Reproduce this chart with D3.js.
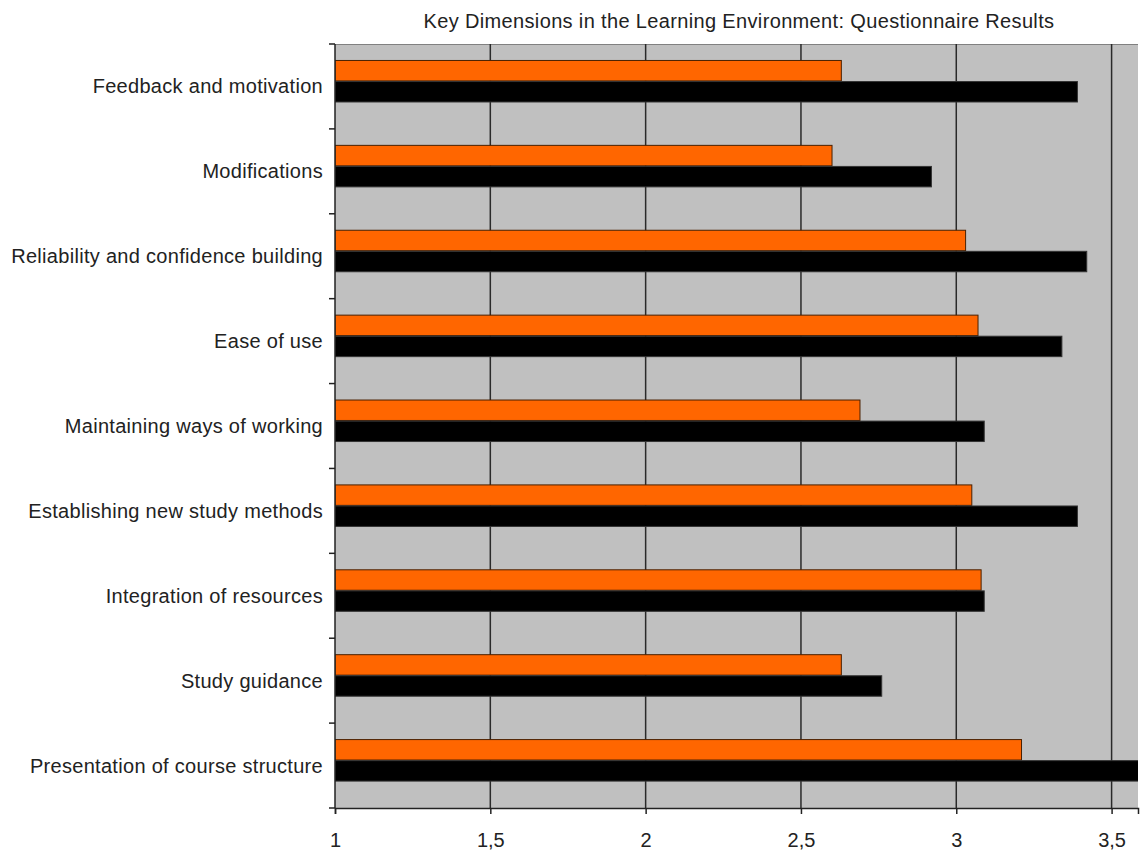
<!DOCTYPE html>
<html>
<head>
<meta charset="utf-8">
<script src="https://cdn.jsdelivr.net/npm/d3@7"></script>
<style>
  body { margin: 0; background: #fff; }
  text { font-family: "Liberation Sans", Arial, sans-serif; fill: #222; }
</style>
</head>
<body>
<script>
// chart data
var categories = ["Feedback and motivation", "Modifications", "Reliability and confidence building",
  "Ease of use", "Maintaining ways of working", "Establishing new study methods",
  "Integration of resources", "Study guidance", "Presentation of course structure"];
var seriesNames = ["orange", "black"];
var orangeValues = [2.63, 2.60, 3.03, 3.07, 2.69, 3.05, 3.08, 2.63, 3.21];
var blackValues = [3.39, 2.92, 3.42, 3.34, 3.09, 3.39, 3.09, 2.76, 3.65];
var tickValues = [1, 1.5, 2, 2.5, 3, 3.5];
var titleText = "Key Dimensions in the Learning Environment: Questionnaire Results";

var width = 1141, height = 850;
var margin = { top: 44, right: 3, bottom: 42, left: 335 };
var innerW = width - margin.left - margin.right,
    innerH = height - margin.top - margin.bottom;

var svg = d3.select("body").append("svg")
    .attr("width", width)
    .attr("height", height);

svg.append("defs").append("clipPath")
    .attr("id", "plotClip")
    .append("rect")
    .attr("width", innerW)
    .attr("height", innerH);

var g = svg.append("g")
    .attr("transform", "translate(" + margin.left + "," + margin.top + ")");

var x = d3.scaleLinear()
    .domain([1, 3.585])
    .range([0, innerW]);

var y = d3.scaleBand()
    .domain(categories)
    .range([0, innerH])
    .padding(0);

var bw = y.bandwidth();
var ySub = d3.scaleBand()
    .domain(seriesNames)
    .range([bw * 0.194, bw * 0.683])
    .paddingInner(0.03);

// plot background
g.append("rect")
    .attr("width", innerW)
    .attr("height", innerH)
    .attr("fill", "#c0c0c0");

// top border line
g.append("line")
    .attr("x1", 0).attr("x2", innerW)
    .attr("y1", 0.5).attr("y2", 0.5)
    .attr("stroke", "#808080");

// vertical gridlines
g.selectAll(".grid")
    .data(tickValues.slice(1))
    .enter()
    .append("line")
    .attr("class", "grid")
    .attr("x1", function(d) { return x(d); })
    .attr("x2", function(d) { return x(d); })
    .attr("y1", 0)
    .attr("y2", innerH)
    .attr("stroke", "#2a2a2a")
    .attr("stroke-width", 1.5);

var plot = g.append("g").attr("clip-path", "url(#plotClip)");

var rows = categories.map(function(c, i) {
  return { cat: c, orange: orangeValues[i], black: blackValues[i] };
});

// orange bars
plot.selectAll(".barOrange")
    .data(rows)
    .enter()
    .append("rect")
    .attr("class", "barOrange")
    .attr("x", x(1))
    .attr("y", function(d) { return y(d.cat) + ySub("orange"); })
    .attr("width", function(d) { return x(d.orange) - x(1); })
    .attr("height", ySub.bandwidth())
    .attr("fill", "#ff6600")
    .attr("stroke", "#4a2000")
    .attr("stroke-width", 1);

// black bars
plot.selectAll(".barBlack")
    .data(rows)
    .enter()
    .append("rect")
    .attr("class", "barBlack")
    .attr("x", x(1))
    .attr("y", function(d) { return y(d.cat) + ySub("black"); })
    .attr("width", function(d) { return x(d.black) - x(1); })
    .attr("height", ySub.bandwidth())
    .attr("fill", "#000")
    .attr("stroke", "#333")
    .attr("stroke-width", 1);

// x axis
var xAxis = g.append("g")
    .attr("transform", "translate(0," + innerH + ")")
    .call(d3.axisBottom(x)
      .tickValues(tickValues)
      .tickSize(6)
      .tickFormat(function(d) { return String(d).replace(".", ","); }));
xAxis.select(".domain").attr("stroke", "#222").attr("stroke-width", 1.5);
xAxis.selectAll(".tick line").attr("stroke", "#222").attr("stroke-width", 1.5);
xAxis.selectAll(".tick text")
    .attr("y", 25)
    .attr("font-size", 20)
    .attr("fill", "#222")
    .attr("font-family", "Liberation Sans, Arial, sans-serif");

// y axis line and tick marks at band boundaries
g.append("line")
    .attr("x1", 0).attr("x2", 0)
    .attr("y1", 0).attr("y2", innerH)
    .attr("stroke", "#222")
    .attr("stroke-width", 1.5);

var boundaries = categories.map(function(c) { return y(c); }).concat([innerH]);
g.selectAll(".ytick")
    .data(boundaries)
    .enter()
    .append("line")
    .attr("class", "ytick")
    .attr("x1", -6).attr("x2", 0)
    .attr("y1", function(d) { return d; })
    .attr("y2", function(d) { return d; })
    .attr("stroke", "#222")
    .attr("stroke-width", 1.5);

// category labels
g.selectAll(".catLabel")
    .data(categories)
    .enter()
    .append("text")
    .attr("class", "catLabel")
    .attr("x", -12)
    .attr("y", function(d) { return y(d) + bw / 2 + 7; })
    .attr("text-anchor", "end")
    .attr("font-size", 20)
    .attr("letter-spacing", 0.3)
    .text(function(d) { return d; });

// title
svg.append("text")
    .attr("x", 739)
    .attr("y", 28)
    .attr("text-anchor", "middle")
    .attr("font-size", 20)
    .attr("letter-spacing", 0.35)
    .text(titleText);
</script>
</body>
</html>
